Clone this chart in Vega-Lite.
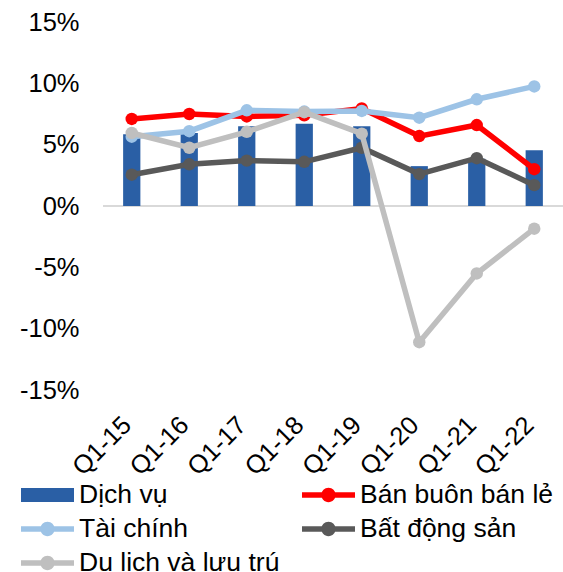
{
  "$schema": "https://vega.github.io/schema/vega-lite/v6.json",
  "width": 460,
  "height": 368,
  "autosize": {"type": "none"},
  "padding": {"left": 103, "top": 22, "right": 0, "bottom": 182},
  "background": "white",
  "config": {
    "view": {"stroke": null},
    "font": "Liberation Sans",
    "axis": {"labelFont": "Liberation Sans", "labelFontSize": 25.5, "labelColor": "#000000", "grid": false, "domain": false, "ticks": false},
    "legend": {"labelFont": "Liberation Sans", "labelFontSize": 26.5, "labelColor": "#000000"}
  },
  "data": {
    "values": [
      {"q": "Q1-15", "series": "Dịch vụ", "v": 5.85},
      {"q": "Q1-16", "series": "Dịch vụ", "v": 5.95},
      {"q": "Q1-17", "series": "Dịch vụ", "v": 6.5},
      {"q": "Q1-18", "series": "Dịch vụ", "v": 6.7},
      {"q": "Q1-19", "series": "Dịch vụ", "v": 6.5},
      {"q": "Q1-20", "series": "Dịch vụ", "v": 3.25},
      {"q": "Q1-21", "series": "Dịch vụ", "v": 3.85},
      {"q": "Q1-22", "series": "Dịch vụ", "v": 4.55},
      {"q": "Q1-15", "series": "Bán buôn bán lẻ", "v": 7.1},
      {"q": "Q1-16", "series": "Bán buôn bán lẻ", "v": 7.5},
      {"q": "Q1-17", "series": "Bán buôn bán lẻ", "v": 7.3},
      {"q": "Q1-18", "series": "Bán buôn bán lẻ", "v": 7.4},
      {"q": "Q1-19", "series": "Bán buôn bán lẻ", "v": 7.95},
      {"q": "Q1-20", "series": "Bán buôn bán lẻ", "v": 5.7},
      {"q": "Q1-21", "series": "Bán buôn bán lẻ", "v": 6.6},
      {"q": "Q1-22", "series": "Bán buôn bán lẻ", "v": 3.0},
      {"q": "Q1-15", "series": "Tài chính", "v": 5.65},
      {"q": "Q1-16", "series": "Tài chính", "v": 6.1},
      {"q": "Q1-17", "series": "Tài chính", "v": 7.8},
      {"q": "Q1-18", "series": "Tài chính", "v": 7.7},
      {"q": "Q1-19", "series": "Tài chính", "v": 7.75},
      {"q": "Q1-20", "series": "Tài chính", "v": 7.2},
      {"q": "Q1-21", "series": "Tài chính", "v": 8.7},
      {"q": "Q1-22", "series": "Tài chính", "v": 9.75},
      {"q": "Q1-15", "series": "Bất động sản", "v": 2.55},
      {"q": "Q1-16", "series": "Bất động sản", "v": 3.4},
      {"q": "Q1-17", "series": "Bất động sản", "v": 3.7},
      {"q": "Q1-18", "series": "Bất động sản", "v": 3.6},
      {"q": "Q1-19", "series": "Bất động sản", "v": 4.75},
      {"q": "Q1-20", "series": "Bất động sản", "v": 2.6},
      {"q": "Q1-21", "series": "Bất động sản", "v": 3.9},
      {"q": "Q1-22", "series": "Bất động sản", "v": 1.7},
      {"q": "Q1-15", "series": "Du lịch và lưu trú", "v": 5.95},
      {"q": "Q1-16", "series": "Du lịch và lưu trú", "v": 4.75},
      {"q": "Q1-17", "series": "Du lịch và lưu trú", "v": 6.05},
      {"q": "Q1-18", "series": "Du lịch và lưu trú", "v": 7.65},
      {"q": "Q1-19", "series": "Du lịch và lưu trú", "v": 5.9},
      {"q": "Q1-20", "series": "Du lịch và lưu trú", "v": -11.1},
      {"q": "Q1-21", "series": "Du lịch và lưu trú", "v": -5.5},
      {"q": "Q1-22", "series": "Du lịch và lưu trú", "v": -1.85}
    ]
  },
  "layer": [
    {
      "mark": {"type": "rule", "color": "#D9D9D9", "strokeWidth": 1.5},
      "encoding": {"y": {"datum": 0, "type": "quantitative", "scale": {"domain": [-15, 15], "nice": false}}}
    },
    {
      "transform": [{"filter": "datum.series === 'Dịch vụ'"}],
      "mark": {"type": "bar"},
      "encoding": {
        "x": {
          "field": "q", "type": "nominal", "sort": null,
          "scale": {"paddingInner": 0.7, "paddingOuter": 0.35},
          "axis": {"title": null, "labelAngle": -45, "labelPadding": 22, "labelOffset": -13}
        },
        "y": {
          "field": "v", "type": "quantitative",
          "scale": {"domain": [-15, 15], "nice": false},
          "axis": {"title": null, "values": [-15, -10, -5, 0, 5, 10, 15], "labelExpr": "datum.value + '%'", "labelPadding": 24}
        },
        "color": {
          "field": "series", "type": "nominal",
          "scale": {
            "domain": ["Dịch vụ", "Bán buôn bán lẻ", "Tài chính", "Bất động sản", "Du lịch và lưu trú"],
            "range": ["#2A5FA5", "#FF0000", "#9DC3E6", "#595959", "#BFBFBF"]
          },
          "legend": {
            "title": null,
            "orient": "none",
            "legendX": -82,
            "legendY": 456,
            "columns": 2,
            "direction": "horizontal",
            "symbolSize": 2809,
            "symbolStrokeWidth": 0,
            "labelOffset": 5,
            "columnPadding": 22,
            "rowPadding": 0,
            "clipHeight": 34,
            "labelLimit": 400,
            "encoding": {
              "symbols": {
                "shape": {
                  "condition": {"test": "datum.value === 'Dịch vụ'", "value": "M-1,-0.26L1,-0.26L1,0.26L-1,0.26Z"},
                  "value": "M-1,-0.1L1,-0.1L1,0.1L-1,0.1ZM-0.27,0A0.27,0.27 0 1 1 0.27,0A0.27,0.27 0 1 1 -0.27,0Z"
                }
              }
            }
          }
        }
      }
    },
    {
      "transform": [{"filter": "datum.series === 'Bán buôn bán lẻ'"}],
      "mark": {"type": "line", "strokeWidth": 5.5, "point": {"filled": true, "size": 155, "opacity": 1}},
      "encoding": {
        "x": {"field": "q", "type": "nominal", "sort": null},
        "y": {"field": "v", "type": "quantitative"},
        "color": {"field": "series", "type": "nominal"}
      }
    },
    {
      "transform": [{"filter": "datum.series === 'Tài chính'"}],
      "mark": {"type": "line", "strokeWidth": 5.5, "point": {"filled": true, "size": 155, "opacity": 1}},
      "encoding": {
        "x": {"field": "q", "type": "nominal", "sort": null},
        "y": {"field": "v", "type": "quantitative"},
        "color": {"field": "series", "type": "nominal"}
      }
    },
    {
      "transform": [{"filter": "datum.series === 'Bất động sản'"}],
      "mark": {"type": "line", "strokeWidth": 5.5, "point": {"filled": true, "size": 155, "opacity": 1}},
      "encoding": {
        "x": {"field": "q", "type": "nominal", "sort": null},
        "y": {"field": "v", "type": "quantitative"},
        "color": {"field": "series", "type": "nominal"}
      }
    },
    {
      "transform": [{"filter": "datum.series === 'Du lịch và lưu trú'"}],
      "mark": {"type": "line", "strokeWidth": 5.5, "point": {"filled": true, "size": 155, "opacity": 1}},
      "encoding": {
        "x": {"field": "q", "type": "nominal", "sort": null},
        "y": {"field": "v", "type": "quantitative"},
        "color": {"field": "series", "type": "nominal"}
      }
    }
  ]
}
